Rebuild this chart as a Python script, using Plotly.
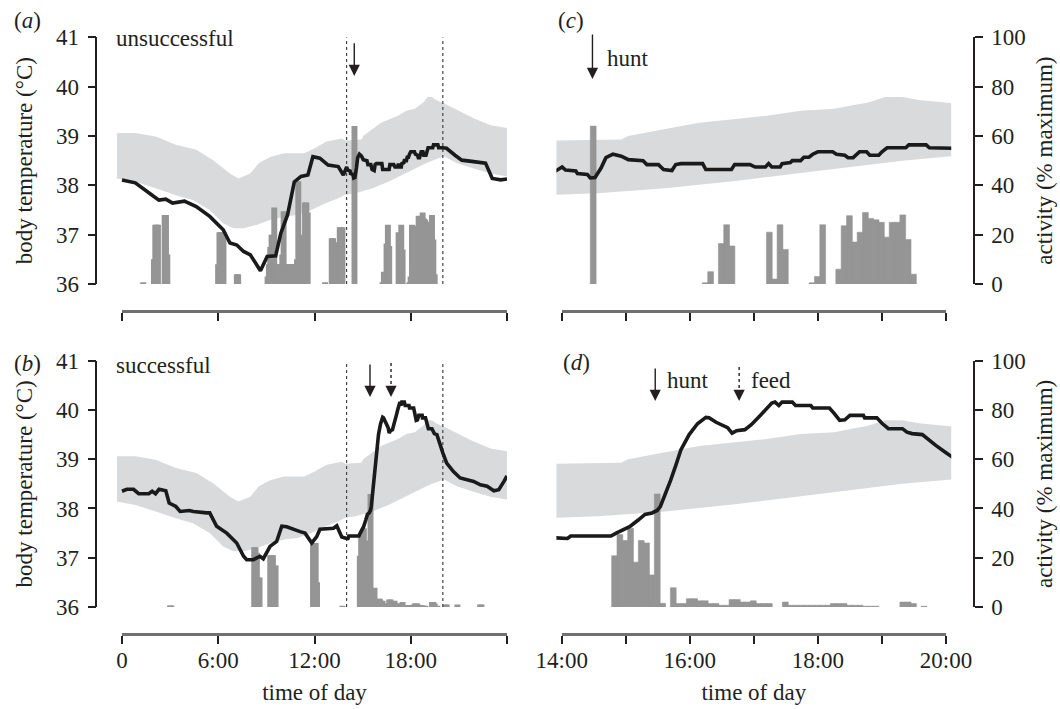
import plotly.graph_objects as go

# ------------------------------------------------------------------ data
# group envelope of body temperature (deg C), shared by all panels
band_upper_time = [-0.33, 0.83, 2.1, 3.36, 4.63, 5.68, 6.73, 7.26, 8.0, 8.53, 9.27, 10.11, 11.37, 12.01,
                   12.75, 13.70, 13.917, 14.931, 15.037, 15.618, 16.146, 16.674, 17.202, 17.731, 18.259,
                   18.523, 18.787, 19.051, 19.315, 19.579, 20.081, 20.86, 21.92, 22.97, 24.0]
band_upper_temp = [39.06, 39.06, 38.99, 38.82, 38.72, 38.51, 38.24, 38.14, 38.24, 38.45, 38.58, 38.65, 38.65,
                   38.75, 38.89, 38.95, 38.91, 38.93, 39.00, 39.14, 39.27, 39.34, 39.41, 39.51, 39.55,
                   39.62, 39.68, 39.79, 39.79, 39.73, 39.66, 39.53, 39.36, 39.22, 39.16]
band_lower_time = [-0.33, 0.83, 2.1, 3.36, 4.42, 5.47, 6.31, 6.95, 7.58, 8.42, 9.27, 10.11, 10.95, 11.80,
                   12.64, 13.48, 13.917, 14.56, 15.618, 16.674, 17.731, 18.787, 19.315, 20.081, 20.86,
                   21.92, 22.97, 24.0]
band_lower_temp = [38.14, 38.07, 37.94, 37.80, 37.70, 37.50, 37.23, 37.13, 37.13, 37.20, 37.30, 37.37, 37.40,
                   37.50, 37.63, 37.74, 37.81, 37.84, 37.94, 38.08, 38.25, 38.42, 38.50, 38.59, 38.45,
                   38.34, 38.24, 38.18]

# unsuccessful hunter: body temperature (time in decimal hours)
unsucc_time = [0.0, 0.83, 1.67, 2.3, 2.73, 3.15, 3.89, 4.63, 5.47, 6.31, 6.73, 7.16, 7.58, 8.0, 8.63, 9.05,
               9.58, 9.90, 10.32, 10.74, 11.16, 11.59, 11.90, 12.33, 12.85, 13.48, 13.80,
               14.007, 14.06, 14.22, 14.245, 14.40, 14.445, 14.52, 14.614, 14.69, 14.80, 14.93, 15.04,
               15.27, 15.33, 15.51, 15.59, 15.72, 15.78, 15.86, 16.20, 16.25, 16.65, 16.70, 16.94, 17.02,
               17.18, 17.23, 17.28, 17.41, 17.44, 17.57, 17.60, 17.73, 17.78, 17.86, 17.92, 18.0, 18.23,
               18.29, 18.42, 18.47, 18.55, 18.60, 18.65, 18.76, 18.81, 18.95, 19.0, 19.08, 19.37, 19.42,
               19.69, 19.74, 20.0, 20.23, 20.76, 21.18, 21.92, 22.66, 23.08, 23.61, 24.0]
unsucc_temp = [38.11, 38.05, 37.85, 37.70, 37.72, 37.64, 37.68, 37.57, 37.37, 37.10, 36.83, 36.79, 36.66,
               36.59, 36.27, 36.56, 36.57, 37.03, 37.40, 38.07, 38.18, 38.21, 38.58, 38.55, 38.41, 38.38,
               38.21,
               38.37, 38.31, 38.29, 38.24, 38.22, 38.15, 38.16, 38.35, 38.56, 38.63, 38.59, 38.52,
               38.50, 38.42, 38.42, 38.32, 38.30, 38.42, 38.44, 38.44, 38.32, 38.32, 38.42, 38.42, 38.37,
               38.37, 38.44, 38.37, 38.37, 38.44, 38.46, 38.50, 38.50, 38.57, 38.57, 38.63, 38.68, 38.68,
               38.63, 38.61, 38.56, 38.56, 38.63, 38.68, 38.68, 38.61, 38.61, 38.68, 38.76, 38.76, 38.82,
               38.82, 38.76, 38.76, 38.75, 38.61, 38.51, 38.48, 38.45, 38.14, 38.11, 38.13]

# unsuccessful hunter: activity (% maximum) in 5-min bins, bin start time
unsucc_bin = ["01:17", "01:57", "02:02", "02:07", "02:12", "02:37", "02:42", "02:47",
              "05:57", "06:02", "06:07", "06:12", "06:17", "07:07", "07:12",
              "09:02", "09:07", "09:12", "09:17", "09:22", "09:27", "09:32", "09:37", "09:42", "09:47",
              "09:52", "09:57", "10:02", "10:07", "10:12", "10:17", "10:22", "10:27", "10:32", "10:37",
              "10:42", "10:47", "10:52", "10:57", "11:02", "11:07", "11:12", "11:17", "11:22", "11:27",
              "11:32",
              "12:37", "13:02", "13:07", "13:12", "13:17", "13:22", "13:27", "13:32", "13:37", "13:42",
              "14:27",
              "16:12", "16:17", "16:27", "16:32", "16:37", "17:12", "17:17", "17:22", "17:27",
              "17:52", "17:57", "18:02", "18:17", "18:22", "18:27", "18:32", "18:37", "18:42", "18:47",
              "18:52", "18:57", "19:02", "19:07", "19:12", "19:17", "19:22", "19:27"]
unsucc_act = [0.6, 10, 24, 24, 24, 28, 28, 12,
              8, 21, 21, 21, 21, 4, 4,
              3, 8, 15, 20, 20, 31, 8, 8, 8, 8,
              8, 12, 29.5, 8, 8, 8, 8, 8, 8, 8,
              8, 8, 10, 41.6, 8, 8, 8, 20, 33, 33,
              29,
              0.5, 18.5, 18.5, 13, 13, 16.8, 16.8, 23, 23, 23,
              64,
              0.5, 5, 16.4, 24, 15.4, 21, 2, 24, 14,
              0.5, 3, 24, 6, 23.6, 27.7, 17, 21, 29, 26.6,
              26, 25, 19, 25, 25, 28, 18, 4]
unsucc_hunt = 14.48

# successful hunter: body temperature
succ_time = [0.0, 0.30, 0.72, 1.04, 1.67, 1.88, 2.09, 2.31, 2.73, 2.94, 3.36, 3.62, 4.2, 4.45, 5.28, 5.47,
             5.90, 6.31, 6.53, 7.15, 7.58, 7.77, 8.19, 8.60, 8.81, 9.23, 9.64, 9.96, 10.27, 11.10, 11.41,
             11.83, 12.14, 12.34, 13.18, 13.39, 13.70,
             14.0, 14.09, 14.14, 14.77, 14.85, 14.96, 15.06, 15.19, 15.30, 15.41, 15.49, 15.54, 15.62,
             15.70, 15.78, 15.86, 15.99, 16.12, 16.25, 16.30, 16.41, 16.52, 16.59, 16.66, 16.73, 16.86,
             16.96, 17.10, 17.20, 17.28, 17.33, 17.39, 17.44, 17.60, 17.65, 17.89, 17.92, 18.18, 18.26,
             18.34, 18.42, 18.50, 18.71, 18.73, 18.92, 19.0, 19.10, 19.32, 19.39, 19.47, 19.63, 19.71,
             19.84, 20.0,
             20.24, 20.66, 21.08, 21.50, 21.92, 22.34, 22.76, 23.18, 23.49, 23.81, 24.0]
succ_temp = [38.35, 38.39, 38.39, 38.30, 38.30, 38.35, 38.30, 38.39, 38.36, 38.11, 38.04, 37.94, 37.96, 37.94,
             37.91, 37.91, 37.64, 37.54, 37.50, 37.30, 37.03, 36.96, 36.96, 37.03, 36.98, 37.23, 37.33,
             37.64, 37.63, 37.53, 37.50, 37.30, 37.43, 37.58, 37.60, 37.65, 37.42,
             37.39, 37.39, 37.44, 37.44, 37.50, 37.56, 37.63, 37.76, 37.88, 37.91, 37.96, 38.04, 38.30,
             38.57, 38.87, 39.19, 39.50, 39.72, 39.85, 39.84, 39.75, 39.68, 39.64, 39.53, 39.58, 39.60,
             39.70, 39.89, 40.02, 40.14, 40.16, 40.09, 40.16, 40.16, 40.09, 40.09, 40.04, 40.04, 39.92,
             39.79, 39.80, 39.89, 39.89, 39.84, 39.84, 39.73, 39.62, 39.62, 39.55, 39.52, 39.50, 39.41,
             39.28, 39.13,
             38.92, 38.75, 38.62, 38.58, 38.55, 38.48, 38.45, 38.36, 38.38, 38.55, 38.66]

# successful hunter: activity (% maximum) in 5-min bins
succ_bin = ["02:57", "03:02", "08:12", "08:17", "08:22", "08:27", "08:32", "09:12", "09:17", "09:22",
            "09:27", "09:32", "11:52", "11:57", "12:02", "12:07", "13:42",
            "14:47", "14:52", "14:57", "15:02", "15:07", "15:12", "15:17", "15:22", "15:27", "15:32",
            "15:42", "15:47", "15:52", "15:57", "16:02", "16:07", "16:12", "16:17", "16:22", "16:27",
            "16:32", "16:37", "16:42", "16:47", "16:52", "16:57", "17:02", "17:07", "17:12", "17:27",
            "17:32", "17:37", "17:42", "17:47", "17:52", "17:57", "18:02", "18:07", "18:12", "18:17",
            "18:22", "18:27", "18:32", "18:37", "18:42", "18:47", "18:52", "19:17", "19:22", "19:27",
            "19:37",
            "20:07", "20:12", "20:52", "22:17", "22:22"]
succ_act = [0.6, 0.6, 24.3, 24.3, 22, 12, 12, 21, 21, 21,
            16.8, 16.8, 26, 26, 26, 10, 0.5,
            20.8, 29.4, 27, 32, 18.2, 27, 26, 13, 45.9, 1.5,
            7.8, 1.4, 1.4, 3.4, 3.4, 2.5, 2.5, 1.4, 1.4, 0.7,
            0.7, 3, 3, 2, 2, 2.5, 1.4, 1.4, 1.4, 2,
            0.7, 0.7, 0.7, 0.7, 0.7, 0.7, 0.7, 0.7, 1.4, 1.4,
            1.4, 0.7, 0.7, 0.7, 0.3, 0.3, 0.3, 2, 2, 1.4,
            0.3,
            1, 1, 1, 1, 1]
succ_hunt = 15.46
succ_feed = 16.77

# axes / ticks
temp_range = [36, 41]
temp_ticks = [36, 37, 38, 39, 40, 41]
act_range = [0, 100]
act_ticks = [0, 20, 40, 60, 80, 100]
day_tickvals = [0, 6, 12, 18, 24]
day_ticktext = ["0", "6:00", "12:00", "18:00", ""]
zoom_tickvals = [14, 15, 16, 17, 18, 19, 20]
zoom_ticktext = ["14:00", "", "16:00", "", "18:00", "", "20:00"]
zoom_window = [14, 20]

# ------------------------------------------------------------------ styling / geometry
W, H = 1060, 709
FONT = dict(family="Liberation Serif", size=23, color="#231f20")
INK = "#231f20"
BAND = "#d9dadb"
BAR = "#959595"
BIN_H = 5 / 60
RIGHT_BAR_W = BIN_H * 1.08
LEFT_BAR_W = 0.37


def px(p):
    return p / W


def py(p):
    return 1 - p / H


def hours(hhmm):
    h, m = hhmm.split(":")
    return int(h) + int(m) / 60


ROW_Y = {"top": (37.3, 284.0), "bottom": (360.7, 607.0)}
AXIS_LINE_Y = {"top": 310.7, "bottom": 634.0}
COL = {
    "left": dict(tick=(122, 507), data=(116.7, 507), tick_range=[0, 24], data_range=[-0.33, 24]),
    "right": dict(tick=(561.7, 946), data=(556.4, 951.2), tick_range=[14, 20], data_range=[13.917, 20.081]),
}

series = {
    "u": dict(time=unsucc_time, temp=unsucc_temp, bins=unsucc_bin, act=unsucc_act,
              hunt=unsucc_hunt, feed=None),
    "s": dict(time=succ_time, temp=succ_temp, bins=succ_bin, act=succ_act,
              hunt=succ_hunt, feed=succ_feed),
}

panels = [
    dict(letter="a", s="u", col="left", row="top"),
    dict(letter="b", s="s", col="left", row="bottom"),
    dict(letter="c", s="u", col="right", row="top"),
    dict(letter="d", s="s", col="right", row="bottom"),
]


def axname(kind, n):
    return kind + ("" if n == 1 else str(n))


fig = go.Figure()
layout = {}
annotations = []

for i, p in enumerate(panels):
    xd_n, xt_n = 2 * i + 1, 2 * i + 2
    yb_n, ya_n, yt_n = 3 * i + 1, 3 * i + 2, 3 * i + 3
    xd, xt = axname("x", xd_n), axname("x", xt_n)
    yb, ya, yt = axname("y", yb_n), axname("y", ya_n), axname("y", yt_n)
    col = COL[p["col"]]
    ytop, ybot = ROW_Y[p["row"]]
    ydom = [py(ybot), py(ytop)]
    d = series[p["s"]]
    left = p["col"] == "left"
    bottom = p["row"] == "bottom"

    # ---- axes
    layout[axname("xaxis", xd_n)] = dict(domain=[px(col["data"][0]), px(col["data"][1])],
                                         range=col["data_range"], visible=False, anchor=yb,
                                         automargin=False)
    xt_ax = dict(domain=[px(col["tick"][0]), px(col["tick"][1])], range=col["tick_range"],
                 anchor="free", position=py(AXIS_LINE_Y[p["row"]]), automargin=False,
                 showline=True, linecolor="#707070", linewidth=3,
                 ticks="outside", ticklen=8, tickwidth=1.5, tickcolor=INK,
                 tickvals=day_tickvals if left else zoom_tickvals,
                 ticktext=day_ticktext if left else zoom_ticktext,
                 showticklabels=bottom, tickfont=FONT, showgrid=False, zeroline=False,
                 ticklabelstandoff=-4)
    if bottom:
        xt_ax["title"] = dict(text="time of day", font=FONT, standoff=12)
    layout[axname("xaxis", xt_n)] = xt_ax

    if left:
        layout[axname("yaxis", yb_n)] = dict(
            domain=ydom, range=temp_range, anchor="free", position=px(96.4), side="left",
            automargin=False,
            showline=True, linecolor=INK, linewidth=1.5, ticks="outside", ticklen=8, tickwidth=1.5,
            tickcolor=INK, tickvals=temp_ticks, tickfont=FONT, showgrid=False, zeroline=False,
            ticklabelstandoff=4,
            title=dict(text="body temperature (°C)", font=FONT, standoff=16))
        layout[axname("yaxis", ya_n)] = dict(overlaying=yb, range=act_range, visible=False,
                                             automargin=False)
    else:
        layout[axname("yaxis", yb_n)] = dict(domain=ydom, range=temp_range, visible=False, anchor=xd,
                                             automargin=False)
        layout[axname("yaxis", ya_n)] = dict(
            overlaying=yb, range=act_range, side="right", anchor="free", position=px(973.8),
            automargin=False,
            showline=True, linecolor=INK, linewidth=1.5, ticks="outside", ticklen=8, tickwidth=1.5,
            tickcolor=INK, tickvals=act_ticks, tickfont=FONT, showgrid=False, zeroline=False,
            ticklabelstandoff=4,
            title=dict(text="activity (% maximum)", font=FONT, standoff=10))
    layout[axname("yaxis", yt_n)] = dict(overlaying=yb, range=temp_range, visible=False,
                                         automargin=False)

    # ---- traces
    fig.add_trace(go.Scatter(
        x=band_upper_time + band_lower_time[::-1], y=band_upper_temp + band_lower_temp[::-1],
        mode="lines", fill="toself", fillcolor=BAND, line=dict(width=0, color=BAND),
        xaxis=xd, yaxis=yb, showlegend=False, hoverinfo="skip"))
    centers = [hours(b) + BIN_H / 2 for b in d["bins"]]
    fig.add_trace(go.Bar(
        x=centers, y=d["act"], width=LEFT_BAR_W if left else RIGHT_BAR_W,
        marker=dict(color=BAR, line=dict(width=0 if left else 0.6, color=BAR)),
        xaxis=xd, yaxis=ya, showlegend=False, hoverinfo="skip"))
    if left:
        for t in zoom_window:
            fig.add_trace(go.Scatter(
                x=[t, t], y=temp_range, mode="lines",
                line=dict(color="#444444", width=1.2, dash="dot"),
                xaxis=xd, yaxis=yt, showlegend=False, hoverinfo="skip"))
    fig.add_trace(go.Scatter(
        x=d["time"], y=d["temp"], mode="lines", line=dict(color="#1a1a1a", width=3.6),
        xaxis=xd, yaxis=yt, showlegend=False, hoverinfo="skip"))
    # empty trace so the detached tick axis is drawn
    fig.add_trace(go.Scatter(x=[], y=[], mode="lines", xaxis=xt, yaxis=yb,
                             showlegend=False, hoverinfo="skip"))

    # ---- event arrows (tail/tip in figure pixels)
    if p["letter"] == "a":
        arrows = [(d["hunt"], 41.7, 76, False)]
    elif p["letter"] == "c":
        arrows = [(d["hunt"], 33, 79, False)]
    elif p["letter"] == "b":
        arrows = [(d["hunt"], 363, 397, False), (d["feed"], 363, 397, True)]
    else:
        arrows = [(d["hunt"], 367, 401, False), (d["feed"], 367, 401, True)]
    span = temp_range[1] - temp_range[0]
    for (t, tail_px, tip_px, dashed) in arrows:
        if not dashed:
            annotations.append(dict(
                x=t, y=py(tip_px), xref=xd, yref="paper", ax=0, ay=-(tip_px - tail_px),
                showarrow=True, arrowhead=2, arrowsize=1.6, arrowwidth=1.4, arrowcolor=INK, text=""))
        else:
            fig.add_trace(go.Scatter(
                x=[t, t],
                y=[temp_range[1] - (tail_px - ytop) / (ybot - ytop) * span,
                   temp_range[1] - (tip_px - 6 - ytop) / (ybot - ytop) * span],
                mode="lines", line=dict(color=INK, width=1.4, dash="3px,3px"),
                xaxis=xd, yaxis=yt, showlegend=False, hoverinfo="skip"))
            annotations.append(dict(
                x=t, y=py(tip_px), xref=xd, yref="paper", ax=0, ay=-9,
                showarrow=True, arrowhead=2, arrowsize=1.6, arrowwidth=1.4, arrowcolor=INK, text=""))

# ---- texts
text_items = [
    ("(<i>a</i>)", 12, 21), ("(<i>b</i>)", 12, 363), ("(<i>c</i>)", 556, 21), ("(<i>d</i>)", 561, 362),
    ("unsuccessful", 114, 38), ("successful", 114, 365),
    ("hunt", 605, 59), ("hunt", 665, 380), ("feed", 749, 380),
]
for txt, x0, y0 in text_items:
    annotations.append(dict(text=txt, x=px(x0), y=py(y0), xref="paper", yref="paper",
                            xanchor="left", yanchor="middle", showarrow=False, font=FONT))

fig.update_layout(
    width=W, height=H, autosize=False,
    margin=dict(l=0, r=0, t=0, b=0, autoexpand=False),
    paper_bgcolor="white", plot_bgcolor="rgba(0,0,0,0)",
    font=FONT, showlegend=False, barmode="overlay",
    annotations=annotations,
    **layout,
)

fig.write_html("out.html", config={"displayModeBar": False},
               post_script="document.body.style.margin='0';document.body.style.overflow='hidden';")
